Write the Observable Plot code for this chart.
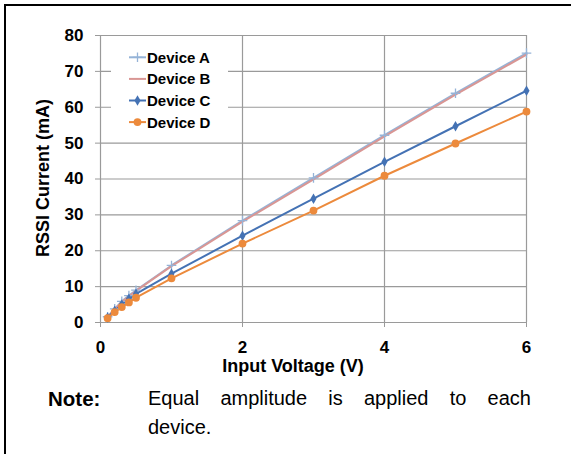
<!DOCTYPE html>
<html><head><meta charset="utf-8">
<script src="https://cdn.jsdelivr.net/npm/d3@7"></script>
<script src="https://cdn.jsdelivr.net/npm/@observablehq/plot@0.6"></script>
<style>
body{margin:0;background:#fff;}
#wrap{position:relative;width:571px;height:454px;overflow:hidden;font-family:"Liberation Sans",Arial,sans-serif;color:#000;}
#frame{position:absolute;left:4px;top:4px;width:600px;height:480px;border-left:2px solid #000;border-top:2px solid #000;}
#chart{position:absolute;left:0;top:0;}
#legend{position:absolute;left:0;top:0;}
.lbl{position:absolute;font-weight:bold;white-space:nowrap;}
#xlab{left:193px;width:200px;text-align:center;top:357px;font-size:18px;line-height:18px;}
#ylab{left:-57px;width:200px;text-align:center;top:168px;font-size:18px;line-height:20px;transform:rotate(-90deg);}
#note{position:absolute;left:48px;top:384px;font-size:20.5px;line-height:29px;font-weight:bold;}
#n1{position:absolute;left:148px;top:384px;width:383px;font-size:20px;line-height:29px;text-align:justify;text-align-last:justify;white-space:nowrap;}
#n2{position:absolute;left:148px;top:413px;font-size:20px;line-height:29px;}
</style></head>
<body>
<div id="wrap">
  <div id="frame"></div>
  <div id="chart"></div>
  <div id="legend"></div>
  <div class="lbl" id="xlab">Input Voltage (V)</div>
  <div class="lbl" id="ylab">RSSI Current (mA)</div>
  <div id="note">Note:</div>
  <div id="n1">Equal amplitude is applied to each</div>
  <div id="n2">device.</div>
</div>
<script>
const xValues = [0.1, 0.2, 0.3, 0.4, 0.5, 1, 2, 3, 4, 5, 6];
const deviceA = [1.6, 3.8, 5.9, 7.5, 9.0, 15.9, 28.4, 40.3, 52.2, 63.9, 75.1];
const deviceB = [1.5, 3.7, 5.7, 7.3, 8.8, 15.7, 28.1, 39.9, 51.9, 63.5, 74.7];
const deviceC = [1.4, 3.3, 5.0, 6.6, 8.0, 13.6, 24.2, 34.5, 44.8, 54.7, 64.6];
const deviceD = [1.2, 2.9, 4.3, 5.6, 6.9, 12.3, 22.0, 31.2, 40.9, 49.9, 58.8];
const seriesNames = ["Device A", "Device B", "Device C", "Device D"];
const seriesValues = [deviceA, deviceB, deviceC, deviceD];
const seriesColors = ["#95b3d7", "#d99694", "#4472b4", "#ec8a3c"];
const seriesSymbols = ["plus", "none", "diamond", "circle"];
const xTicks = [0, 2, 4, 6];
const yTicks = [0, 10, 20, 30, 40, 50, 60, 70, 80];

const rows = [];
seriesNames.forEach((name, i) => {
  xValues.forEach((x, j) => rows.push({series: name, x, y: seriesValues[i][j]}));
});

const dotMarks = seriesNames.map((name, i) => {
  const sym = seriesSymbols[i];
  if (sym === "none") return null;
  const data = rows.filter(d => d.series === name);
  if (sym === "plus") return Plot.dot(data, {x: "x", y: "y", symbol: () => "plus", r: 3.2, stroke: seriesColors[i], strokeWidth: 1.3});
  if (sym === "diamond") return Plot.dot(data, {x: "x", y: "y", symbol: () => "diamond", r: 3.2, fill: seriesColors[i], stroke: "none"});
  return Plot.dot(data, {x: "x", y: "y", symbol: () => "circle", r: 3.9, fill: seriesColors[i], stroke: "none"});
}).filter(Boolean);

const chart = Plot.plot({
  width: 571, height: 380,
  marginLeft: 100, marginRight: 45, marginTop: 35, marginBottom: 58,
  style: {fontFamily: "'Liberation Sans', Arial, sans-serif", fontSize: "17px", fontWeight: "bold", background: "transparent", overflow: "visible"},
  x: {domain: [0, 6]},
  y: {domain: [0, 80]},
  symbol: {legend: false},
  marks: [
    Plot.gridY(yTicks, {stroke: "#9a9a9a", strokeOpacity: 1, strokeWidth: 1.2}),
    Plot.gridX(xTicks, {stroke: "#9a9a9a", strokeOpacity: 1, strokeWidth: 1.2}),
    Plot.axisY(yTicks, {tickSize: 5, tickPadding: 12, stroke: "#9a9a9a", fill: "#000", label: null}),
    Plot.axisX(xTicks, {tickSize: 5, tickPadding: 13, stroke: "#9a9a9a", fill: "#000", label: null}),
    ...seriesNames.map((name, i) => Plot.line(rows.filter(d => d.series === name), {x: "x", y: "y", stroke: seriesColors[i], strokeWidth: 2})),
    ...dotMarks
  ]
});
document.getElementById("chart").appendChild(chart);

// Legend overlay
const lg = d3.select("#legend").append("svg").attr("width", 571).attr("height", 200);
lg.append("rect").attr("x", 111).attr("y", 40).attr("width", 117).attr("height", 97).attr("fill", "#fff");
seriesNames.forEach((name, i) => {
  const cy = 57.3 + i * 21.6;
  const g = lg.append("g");
  g.append("line").attr("x1", 129).attr("x2", 146).attr("y1", cy).attr("y2", cy)
    .attr("stroke", seriesColors[i]).attr("stroke-width", 2);
  const sym = seriesSymbols[i];
  if (sym === "plus") {
    g.append("path").attr("transform", `translate(137.5,${cy})`).attr("d", d3.symbol(d3.symbolPlus, Math.PI * 3.2 * 3.2)())
      .attr("fill", "none").attr("stroke", seriesColors[i]).attr("stroke-width", 1.3);
  } else if (sym === "diamond") {
    g.append("path").attr("transform", `translate(137.5,${cy})`).attr("d", d3.symbol(d3.symbolDiamond, Math.PI * 3.2 * 3.2)())
      .attr("fill", seriesColors[i]);
  } else if (sym === "circle") {
    g.append("circle").attr("cx", 137.5).attr("cy", cy).attr("r", 3.9).attr("fill", seriesColors[i]);
  }
  g.append("text").attr("x", 147).attr("y", cy + 5.5).text(name)
    .attr("font-family", "'Liberation Sans', Arial, sans-serif").attr("font-size", 15).attr("font-weight", "bold");
});
</script>
</body></html>
